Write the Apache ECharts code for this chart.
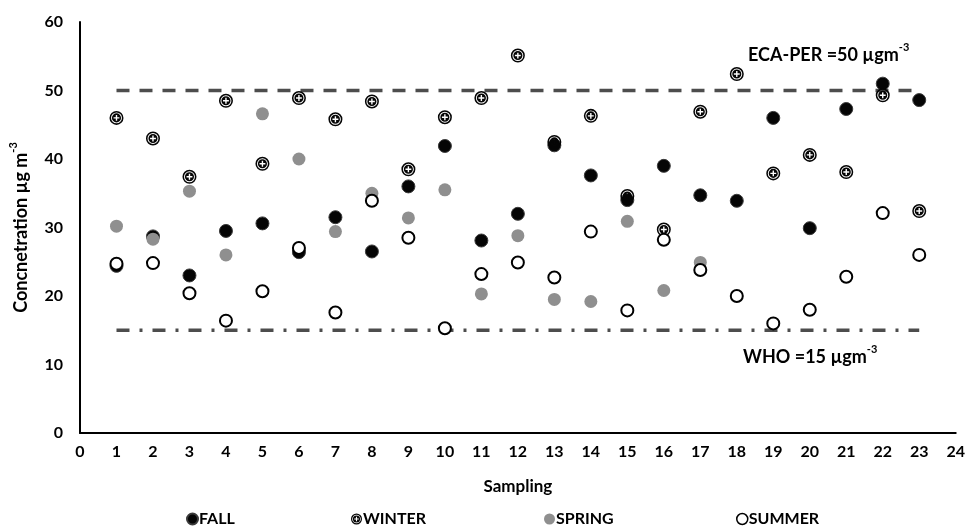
<!DOCTYPE html>
<html>
<head>
<meta charset="utf-8">
<script src="https://cdn.jsdelivr.net/npm/echarts@6/dist/echarts.min.js"></script>
<style>
html, body { margin: 0; padding: 0; background: #fff; }
#chart { width: 968px; height: 527px; }
</style>
</head>
<body>
<div id="chart"></div>
<script>
// sampling number on the x axis
var samples = [1, 2, 3, 4, 5, 6, 7, 8, 9, 10, 11, 12, 13, 14, 15, 16, 17, 18, 19, 20, 21, 22, 23];

// concentrations per season (µg m-3)
var fall = [24.4, 28.7, 23.0, 29.5, 30.6, 26.4, 31.5, 26.5, 36.0, 41.9, 28.1, 32.0, 42.0, 37.6, 34.0, 39.0, 34.7, 33.9, 46.0, 29.9, 47.3, 51.0, 48.6];
var winter = [46.0, 43.0, 37.4, 48.5, 39.3, 48.9, 45.8, 48.4, 38.5, 46.1, 48.9, 55.1, 42.5, 46.3, 34.6, 29.7, 46.9, 52.4, 37.9, 40.6, 38.1, 49.3, 32.4];
var spring = [30.2, 28.3, 35.3, 26.0, 46.6, 40.0, 29.4, 35.0, 31.4, 35.5, 20.3, 28.8, 19.5, 19.2, 30.9, 20.8, 24.9, null, null, null, null, null, null];
var summer = [24.7, 24.8, 20.4, 16.4, 20.7, 27.0, 17.6, 33.9, 28.5, 15.3, 23.2, 24.9, 22.7, 29.4, 17.9, 28.2, 23.8, 20.0, 16.0, 18.0, 22.8, 32.1, 26.0];

var seasons = ['FALL', 'WINTER', 'SPRING', 'SUMMER'];

// guideline values
var ecaLimit = 50;
var whoLimit = 15;
var limitFrom = 1;
var limitTo = 23;

var font = 'Lato, "Open Sans", sans-serif';

function pairs(values) {
    var out = [];
    for (var i = 0; i < samples.length; i++) {
        if (values[i] !== null) out.push([samples[i], values[i]]);
    }
    return out;
}

// black disc, white ring, white cross (winter marker)
var winterSymbol = 'path://M10,0 A10,10 0 1,1 10,20 A10,10 0 1,1 10,0 Z ' +
    'M10,2.2 A7.8,7.8 0 1,0 10,17.8 A7.8,7.8 0 1,0 10,2.2 Z ' +
    'M10,3.5 A6.5,6.5 0 1,1 10,16.5 A6.5,6.5 0 1,1 10,3.5 Z ' +
    'M9,5.8 L9,9 L5.8,9 L5.8,11 L9,11 L9,14.2 L11,14.2 L11,11 L14.2,11 L14.2,9 L11,9 L11,5.8 Z';

// one legend block per season so each sits where the original has it
var legendLeft = [186, 351, 544, 736];
var legends = seasons.map(function(name, i) {
    return {
        data: [{ name: name, itemStyle: name === 'SUMMER' ? { borderWidth: 1.5 } : {} }],
        left: legendLeft[i],
        top: 511,
        padding: 0,
        itemWidth: 11,
        itemHeight: 11,
        textStyle: { fontFamily: font, fontWeight: 'bold', fontSize: 16, color: '#000', padding: [0, 0, 0, -4] }
    };
});

var chart = echarts.init(document.getElementById('chart'));

var option = {
    animation: false,
    textStyle: { fontFamily: font },
    grid: { left: 76, right: 11, top: 22, bottom: 94 },
    legend: legends,
    xAxis: {
        type: 'value',
        min: 0,
        max: 24,
        interval: 1,
        name: 'Sampling',
        nameLocation: 'middle',
        nameGap: 45,
        nameTextStyle: { fontFamily: font, fontWeight: 'bold', fontSize: 17, color: '#000' },
        axisLine: { lineStyle: { color: '#000', width: 2 } },
        axisTick: { show: false },
        splitLine: { show: false },
        axisLabel: { fontFamily: font, fontWeight: 'bold', fontSize: 16, color: '#000', margin: 11 }
    },
    yAxis: {
        type: 'value',
        min: 0,
        max: 60,
        interval: 10,
        name: '{n|Concnetration µg m}{s|-3}',
        nameLocation: 'middle',
        nameGap: 50,
        nameTextStyle: {
            rich: {
                n: { fontFamily: font, fontWeight: 'bold', fontSize: 18, color: '#000', lineHeight: 22, verticalAlign: 'bottom' },
                s: { fontFamily: font, fontWeight: 'bold', fontSize: 11, color: '#000', lineHeight: 22, verticalAlign: 'top' }
            }
        },
        axisLine: { show: true, lineStyle: { color: '#000', width: 2 } },
        axisTick: { show: false },
        splitLine: { show: false },
        axisLabel: { fontFamily: font, fontWeight: 'bold', fontSize: 16, color: '#000', margin: 17 }
    },
    series: [
        {
            name: 'ECA-PER',
            type: 'line',
            silent: true,
            symbol: 'none',
            z: 1,
            lineStyle: { color: '#4d4d4d', width: 3.5, type: [13, 10] },
            data: [[limitFrom, ecaLimit], [limitTo, ecaLimit]]
        },
        {
            name: 'WHO',
            type: 'line',
            silent: true,
            symbol: 'none',
            z: 1,
            lineStyle: { color: '#4d4d4d', width: 3.5, type: [13, 10, 3, 10] },
            data: [[limitFrom, whoLimit], [limitTo, whoLimit]]
        },
        {
            name: 'FALL',
            type: 'scatter',
            symbol: 'circle',
            symbolSize: 13,
            z: 3,
            itemStyle: { color: '#050505', borderColor: '#3a3a3a', borderWidth: 1, opacity: 1 },
            data: pairs(fall)
        },
        {
            name: 'WINTER',
            type: 'scatter',
            symbol: winterSymbol,
            symbolSize: 14,
            z: 3,
            itemStyle: { color: '#050505', opacity: 1 },
            data: pairs(winter)
        },
        {
            name: 'SPRING',
            type: 'scatter',
            symbol: 'circle',
            symbolSize: 13,
            z: 3,
            itemStyle: { color: '#8f8f8f', opacity: 1 },
            data: pairs(spring)
        },
        {
            name: 'SUMMER',
            type: 'scatter',
            symbol: 'circle',
            symbolSize: 12,
            z: 3,
            itemStyle: { color: '#ffffff', borderColor: '#000', borderWidth: 2, opacity: 1 },
            data: pairs(summer)
        }
    ],
    graphic: [
        {
            type: 'text',
            left: 748,
            top: 42,
            style: {
                text: '{n|ECA-PER =50 µgm}{s|-3}',
                rich: {
                    n: { fontFamily: font, fontWeight: 'bold', fontSize: 18, fill: '#000', lineHeight: 22, verticalAlign: 'bottom' },
                    s: { fontFamily: font, fontWeight: 'bold', fontSize: 11, fill: '#000', lineHeight: 22, verticalAlign: 'top' }
                }
            }
        },
        {
            type: 'text',
            left: 743,
            top: 344,
            style: {
                text: '{n|WHO =15 µgm}{s|-3}',
                rich: {
                    n: { fontFamily: font, fontWeight: 'bold', fontSize: 18, fill: '#000', lineHeight: 22, verticalAlign: 'bottom' },
                    s: { fontFamily: font, fontWeight: 'bold', fontSize: 11, fill: '#000', lineHeight: 22, verticalAlign: 'top' }
                }
            }
        }
    ]
};

chart.setOption(option);
</script>
</body>
</html>
